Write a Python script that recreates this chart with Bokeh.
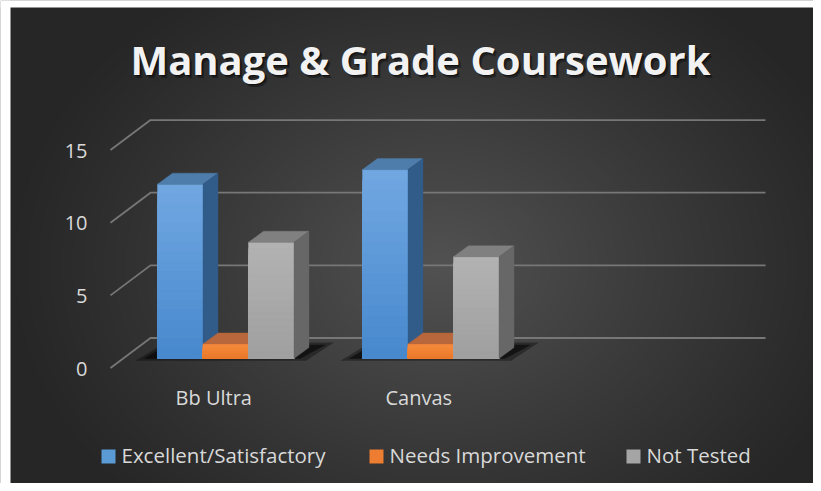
import numpy as np
from bokeh.plotting import figure
from bokeh.models import Range1d
from bokeh.core.properties import value
from bokeh.embed import file_html
from bokeh.resources import INLINE

# ---------------- data ----------------
categories = ["Bb Ultra", "Canvas"]
series_names = ["Excellent/Satisfactory", "Needs Improvement", "Not Tested"]
excellent = [12, 13]
needs_improvement = [1, 1]
not_tested = [8, 7]
y_ticks = [0, 5, 10, 15]
title_text = "Manage & Grade Coursework"

# ---------------- layout / style ----------------
W, H = 813, 483
S = 14.53            # pixels per value unit
Y0 = 367.5           # pixel y of value 0 on the front wall plane
FONT = "Open Sans"
TXT_FIX = 8.0        # baseline correction for ~20px text
TITLE_FIX = 11.0


def uy(py):
    return (Y0 - py) / S


p = figure(width=W, height=H, output_backend="svg", toolbar_location=None,
           x_range=Range1d(0, W), y_range=Range1d(uy(H), uy(0)),
           min_border=0, border_fill_color="#2a2a2a")
p.axis.visible = False
p.grid.visible = False
p.outline_line_color = None

# background radial gradient
jj = np.arange(W) + 0.5
ii = H - (np.arange(H) + 0.5)
PX, PY = np.meshgrid(jj, ii)
r = np.sqrt(((PX - 440) / 440.0) ** 2 + ((PY - 265) / 340.0) ** 2)
c = 38 + 44 * (1 - np.clip(r, 0, 1)) ** 1.1
c = c.astype(np.uint32)
img = (255 << 24) | (c << 16) | (c << 8) | c
p.image_rgba(image=[img.astype(np.uint32)], x=0, y=uy(H), dw=W, dh=uy(0) - uy(H))

# white page edge seen at the reference's left/top
p.quad(left=[0, 0], right=[10, W], bottom=[uy(H), uy(7)], top=[uy(0), uy(0)],
       fill_color="white", line_color=None)

# walls: side diagonals + back gridlines
WALL_X0, WALL_DX, WALL_DY, WALL_X1 = 110.0, 40.0, 30.0 / S, 765.0
gx, gy = [], []
for v in y_ticks:
    gx.append([WALL_X0, WALL_X0 + WALL_DX, WALL_X1])
    gy.append([v, v + WALL_DY, v + WALL_DY])
p.multi_line(gx, gy, line_color="#777777", line_width=1.8)

# bars geometry
BAR_X0, GROUP_STEP, BAR_W = 157.0, 205.0, 45.5
BAR_DX, BAR_DY = 15.0, 11.0 / S
BASE = uy(358)
values = [excellent, needs_improvement, not_tested]
front_top = [(112, 167, 225), (246, 140, 62), (178, 178, 178)]
front_bot = [(72, 137, 206), (236, 122, 44), (160, 160, 160)]
top_col = ["#4f7dab", "#b8663b", "#808080"]
side_col = ["#315b88", "#9c5229", "#676767"]

# shadows
sh_xs, sh_ys, sh_a = [], [], []
for g in range(len(categories)):
    xl = BAR_X0 + g * GROUP_STEP
    xr = xl + 3 * BAR_W
    sh_xs.append([xl - 22, xr + 12, xr + 40, xl + 8])
    sh_ys.append([BASE - 0.15, BASE - 0.15, BASE + 1.1, BASE + 1.1])
    sh_a.append(0.35)
    sh_xs.append([xl - 14, xr + 6, xr + 32, xl + 10])
    sh_ys.append([BASE - 0.02, BASE - 0.02, BASE + 0.95, BASE + 0.95])
    sh_a.append(0.55)
p.patches(sh_xs, sh_ys, fill_color="black", fill_alpha=sh_a, line_color=None)


def hexc(t):
    return "#%02x%02x%02x" % tuple(int(round(a)) for a in t)


xs, ys, fc = [], [], []
N = 18
for g in range(len(categories)):
    for s in range(len(series_names)):
        v = values[s][g]
        x0 = BAR_X0 + g * GROUP_STEP + s * BAR_W
        x1 = x0 + BAR_W
        yb, yt = BASE, BASE + v
        for k in range(N):
            f = k / (N - 1)
            col = tuple(front_top[s][m] * (1 - f) + front_bot[s][m] * f for m in range(3))
            ytop = yt - (yt - yb) * k / N
            xs.append([x0, x1, x1, x0])
            ys.append([yb, yb, ytop, ytop])
            fc.append(hexc(col))
        xs.append([x0, x1, x1 + BAR_DX, x0 + BAR_DX])
        ys.append([yt, yt, yt + BAR_DY, yt + BAR_DY])
        fc.append(top_col[s])
        xs.append([x1, x1 + BAR_DX, x1 + BAR_DX, x1])
        ys.append([yb, yb + BAR_DY, yt + BAR_DY, yt])
        fc.append(side_col[s])
p.patches(xs, ys, fill_color=fc, line_color=fc, line_width=0.4)

# y tick labels
p.text(x=[87] * len(y_ticks), y=[v - (8.5 - TXT_FIX) / S for v in y_ticks],
       text=[str(v) for v in y_ticks], text_align="right", text_baseline="alphabetic",
       text_font=value(FONT), text_font_size=value("20px"), text_color="#d9d9d9")

# category labels
cx = [BAR_X0 + g * GROUP_STEP + 1.5 * BAR_W - 12 for g in range(len(categories))]
p.text(x=cx, y=[uy(405 - TXT_FIX)] * len(categories), text=categories, text_align="center",
       text_baseline="alphabetic", text_font=value(FONT), text_font_size=value("20px"),
       text_color="#d9d9d9")

# title with shadow
for dx, dy, col, a in [(2.5, 2.5, "black", 0.35), (1.2, 1.2, "black", 0.5), (0, 0, "#f2f2f2", 1.0)]:
    p.text(x=[420 + dx], y=[uy(70 - TITLE_FIX + dy)], text=[title_text], text_align="center",
           text_baseline="alphabetic", text_font=value(FONT), text_font_style="bold",
           text_font_size=value("40px"), text_color=col, text_alpha=a)

# legend
leg_sq_x = [101, 369, 626]
leg_colors = ["#5b9bd5", "#ed7d31", "#a5a5a5"]
p.quad(left=leg_sq_x, right=[x + 14 for x in leg_sq_x], bottom=[uy(463)] * 3, top=[uy(449)] * 3,
       fill_color=leg_colors, line_color=None)
p.text(x=[x + 20 for x in leg_sq_x], y=[uy(462 - TXT_FIX)] * 3, text=series_names, text_align="left",
       text_baseline="alphabetic", text_font=value(FONT), text_font_size=value("20.5px"),
       text_color="#d9d9d9")

open("out.html", "w").write(file_html(p, INLINE))
